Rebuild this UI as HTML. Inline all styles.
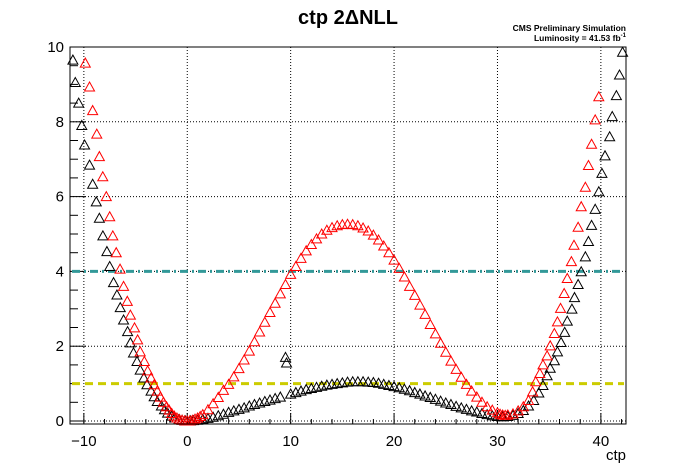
<!DOCTYPE html>
<html><head><meta charset="utf-8"><style>
body{margin:0;background:#fff}
svg{display:block;font-family:"Liberation Sans",Arial,sans-serif}
</style></head><body>
<svg id="c" width="696" height="472" xmlns="http://www.w3.org/2000/svg">
<text x="348" y="24" text-anchor="middle" font-size="20" font-weight="bold">ctp 2ΔNLL</text>
<text x="626" y="31" text-anchor="end" font-size="8.5" font-weight="bold">CMS Preliminary Simulation</text>
<text x="626" y="41" text-anchor="end" font-size="8.5" font-weight="bold">Luminosity = 41.53 fb<tspan dy="-4" font-size="6">-1</tspan></text>
<text x="626" y="460" text-anchor="end" font-size="15">ctp</text>
<g id="grid"></g><g id="axes"></g><g id="lines"></g><g id="marks"></g>
<rect x="70" y="47" width="556" height="377" fill="none" stroke="#000" stroke-width="1"/>
</svg>
<script>
const xTicks=[-10,0,10,20,30,40];
const yTicks=[0,2,4,6,8,10];
const refLevels=[4,1];
const blackX=[-11.06,-10.83,-10.5,-10.2,-9.93,-9.45,-9.15,-8.8,-8.5,-8.16,-7.77,-7.5,-7.13,-6.8,-6.48,-6.16,-5.77,-5.5,-5.2,-4.86,-4.55,-4.2,-3.9,-3.5,-3.2,-2.9,-2.5,-2.2,-1.9,-1.5,-1.2,-0.8,-0.5,-0.2,0,0.3,0.6,1,1.5,2,2.5,3,3.5,4,4.5,5,5.5,6,6.5,7,7.5,8,8.5,9,9.5,9.6,10,10.5,11,11.5,12,12.5,13,13.5,14,14.5,15,15.5,16,16.5,17,17.5,18,18.5,19,19.5,20,20.5,21,21.5,22,22.5,23,23.5,24,24.5,25,25.5,26,26.5,27,27.5,28,28.5,29,29.5,30,30.5,31,31.5,32,32.5,33,33.5,34,34.4,34.8,35.1,35.5,35.8,36.15,36.5,36.75,37.2,37.45,37.8,38.1,38.5,38.8,39.1,39.45,39.8,40.1,40.4,40.85,41.1,41.5,41.8,42.1];
const blackY=[9.65,9.05,8.5,7.9,7.38,6.84,6.33,5.86,5.42,4.95,4.53,4.13,3.7,3.37,3.03,2.7,2.39,2.09,1.82,1.59,1.36,1.15,0.97,0.8,0.65,0.52,0.4,0.3,0.21,0.13,0.08,0.04,0.02,0.005,0,0.005,0.01,0.02,0.04,0.07,0.1,0.14,0.18,0.23,0.27,0.31,0.35,0.4,0.44,0.48,0.52,0.56,0.6,0.64,1.7,1.55,0.72,0.76,0.8,0.84,0.87,0.9,0.93,0.96,0.98,1.0,1.02,1.04,1.05,1.05,1.05,1.04,1.03,1.01,0.98,0.95,0.92,0.89,0.85,0.81,0.76,0.72,0.67,0.63,0.58,0.53,0.48,0.44,0.39,0.35,0.31,0.27,0.24,0.2,0.17,0.14,0.12,0.11,0.12,0.15,0.2,0.28,0.4,0.55,0.75,0.95,1.21,1.41,1.61,1.85,2.1,2.37,2.67,2.99,3.3,3.65,3.99,4.39,4.8,5.23,5.66,6.13,6.62,7.09,7.6,8.14,8.7,9.25,9.86];
const redX=[-9.86,-9.45,-9.15,-8.75,-8.5,-8.17,-7.83,-7.5,-7.2,-6.87,-6.5,-6.16,-5.8,-5.5,-5.1,-4.8,-4.55,-4.15,-3.83,-3.5,-3.2,-2.9,-2.6,-2.3,-2,-1.75,-1.5,-1.25,-1,-0.75,-0.5,-0.25,0,0.25,0.5,0.75,1,1.25,1.5,2,2.5,3,3.5,4,4.5,5,5.5,6,6.5,7,7.5,8,8.5,9,9.5,10,10.5,11,11.5,12,12.5,13,13.5,14,14.5,15,15.5,16,16.5,17,17.5,18,18.5,19,19.5,20,20.5,21,21.5,22,22.5,23,23.5,24,24.5,25,25.5,26,26.5,27,27.5,28,28.5,29,29.5,30,30.25,30.5,30.75,31,31.5,32,32.5,33,33.4,33.7,34.1,34.4,34.8,35.1,35.5,35.8,36.1,36.45,36.75,37.15,37.4,37.8,38.1,38.5,38.8,39.1,39.45,39.8];
const redY=[9.57,8.93,8.3,7.67,7.07,6.53,6.0,5.46,4.95,4.5,4.06,3.6,3.2,2.83,2.49,2.17,1.85,1.59,1.34,1.15,0.97,0.8,0.64,0.5,0.38,0.29,0.2,0.13,0.08,0.04,0.02,0.005,0,0.005,0.02,0.05,0.08,0.12,0.17,0.3,0.46,0.63,0.82,0.98,1.18,1.4,1.63,1.87,2.12,2.38,2.64,2.9,3.15,3.4,3.65,3.92,4.13,4.35,4.55,4.72,4.87,5.0,5.1,5.17,5.22,5.25,5.26,5.25,5.22,5.16,5.08,4.97,4.84,4.68,4.5,4.3,4.08,3.85,3.6,3.36,3.1,2.85,2.58,2.33,2.08,1.84,1.6,1.38,1.17,0.98,0.8,0.64,0.5,0.38,0.29,0.22,0.18,0.16,0.15,0.16,0.19,0.27,0.38,0.55,0.78,1.05,1.27,1.5,1.74,2.01,2.34,2.65,3.01,3.41,3.81,4.26,4.7,5.18,5.73,6.25,6.83,7.4,8.05,8.67,9.34];
const NS="http://www.w3.org/2000/svg";
const X0=-11.34,X1=42.43,Y0=-0.08,Y1=10,L=70,R=626,T=47,B=424;
const sx=v=>L+(v-X0)/(X1-X0)*(R-L);
const sy=v=>B-(v-Y0)/(Y1-Y0)*(B-T);
function mk(tag,attrs,parent){const e=document.createElementNS(NS,tag);for(const k in attrs)e.setAttribute(k,attrs[k]);document.getElementById(parent).appendChild(e);return e;}
xTicks.forEach(v=>{
  const g=mk('line',{x1:sx(v),x2:sx(v),y1:T,y2:B,stroke:'#000','stroke-dasharray':'1,2'},'grid');
  
  
  const t=mk('line',{x1:sx(v),x2:sx(v),y1:B,y2:B-11,stroke:'#000'},'axes');
  
  
  const l=mk('text',{x:sx(v),y:446,'text-anchor':'middle','font-size':15},'axes');
  l.textContent=v<0?'\u2212'+Math.abs(v):v;
  
  
});
for(let v=-10;v<=42;v+=2){if(v%10===0)continue;const t=mk('line',{x1:sx(v),x2:sx(v),y1:B,y2:B-5,stroke:'#000'},'axes');
  
  }
yTicks.forEach(v=>{
  const g=mk('line',{x1:L,x2:R,y1:sy(v),y2:sy(v),stroke:'#000','stroke-dasharray':'1,2'},'grid');
  
  
  const t=mk('line',{x1:L,x2:L+16,y1:sy(v),y2:sy(v),stroke:'#000'},'axes');
  
  
  const l=mk('text',{x:64,y:sy(v)+5,'text-anchor':'end','font-size':15},'axes');
  l.textContent=v;
  
  
});
for(let v=0.5;v<10;v+=0.5){if(v%2===0)continue;const t=mk('line',{x1:L,x2:L+8,y1:sy(v),y2:sy(v),stroke:'#000'},'axes');
  
  }
const l4=mk('line',{x1:L+2,x2:R-2,y1:sy(refLevels[0]),y2:sy(refLevels[0]),stroke:'#339999','stroke-width':3,'stroke-dasharray':'8,4,2,4'},'lines');


const l1=mk('line',{x1:L+2,x2:R-2,y1:sy(refLevels[1]),y2:sy(refLevels[1]),stroke:'#cccc00','stroke-width':3,'stroke-dasharray':'8,5'},'lines');


function tri(x,y,col,name){const cx=sx(x),cy=sy(y);
  const p=mk('polygon',{points:`${cx-5},${cy+4} ${cx+5},${cy+4} ${cx},${cy-5}`,fill:'none',stroke:col,'stroke-width':1},'marks');
  
  }
blackX.forEach((x,i)=>tri(x,blackY[i],'#000','black-point'));
redX.forEach((x,i)=>tri(x,redY[i],'#ff0000','red-point'));
</script>
</body></html>
